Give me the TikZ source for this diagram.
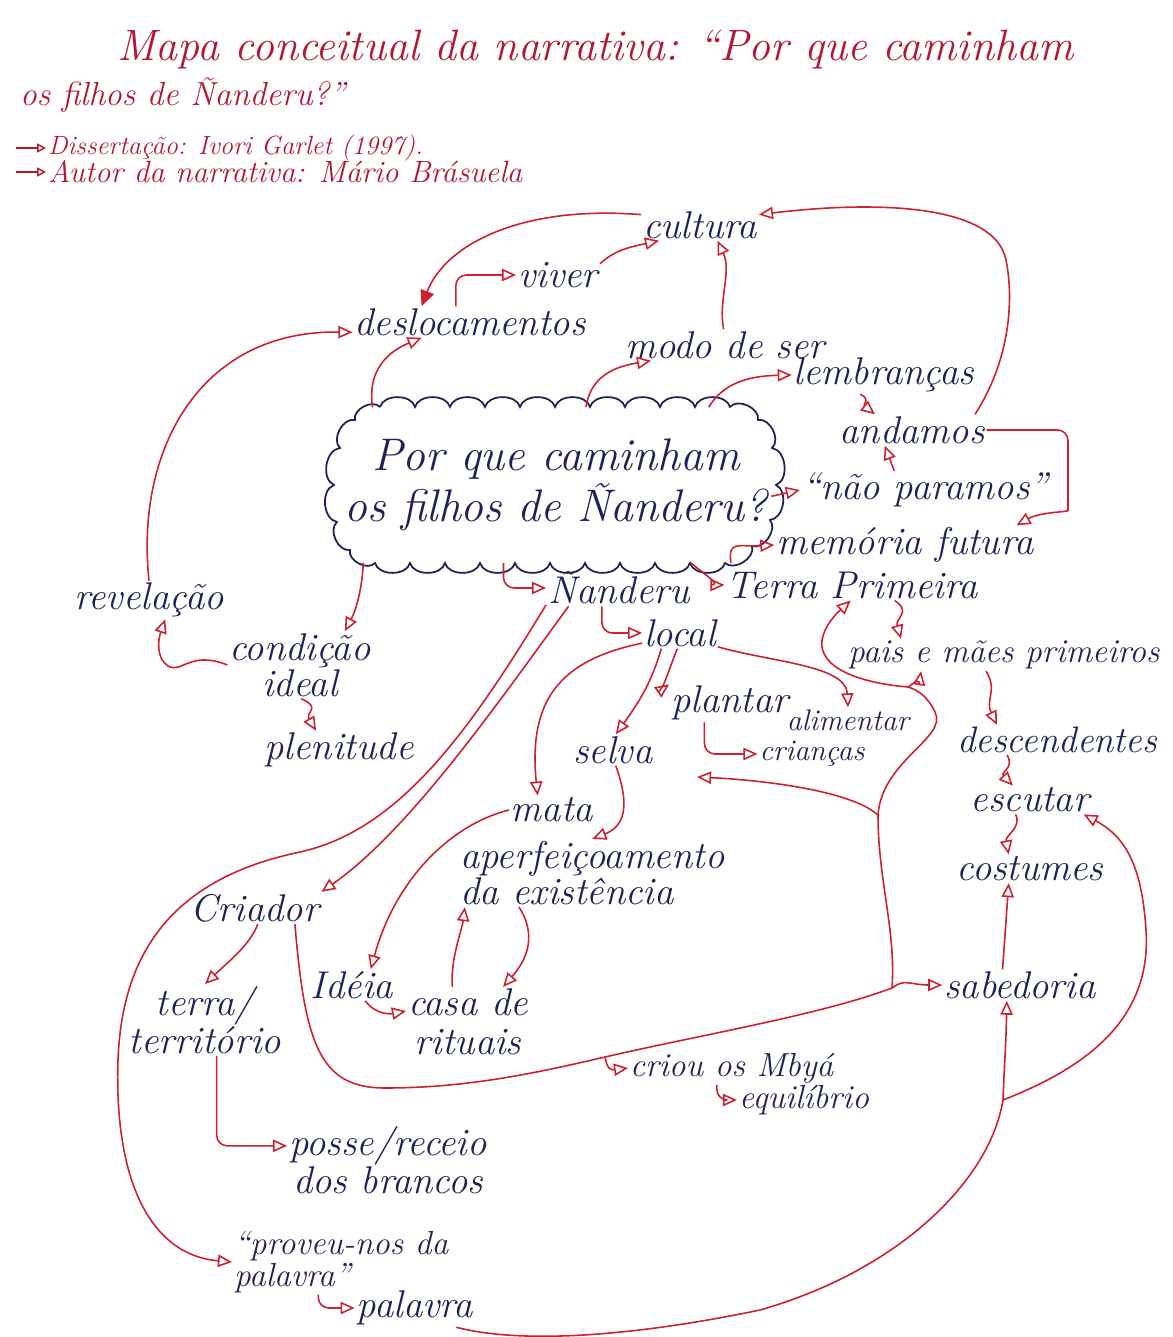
\documentclass[tikz,border=0pt]{standalone}
\usepackage{tikz}
\usetikzlibrary{arrows.meta,calc,positioning}
\definecolor{cink}{RGB}{30,34,84}
\definecolor{cred}{RGB}{205,32,48}
\definecolor{ctitle}{RGB}{180,22,52}
\tikzset{
  concept/.style={font=\fontsize{22}{19}\selectfont\itshape,text=cink,
    inner sep=1pt,align=center},
  smallconcept/.style={concept,font=\fontsize{19}{16}\selectfont\itshape},
  tinyconcept/.style={concept,font=\fontsize{17}{15}\selectfont\itshape},
  titletxt/.style={font=\fontsize{25}{25}\selectfont\itshape,text=ctitle,
    inner sep=1pt},
  subtxt/.style={titletxt,font=\fontsize{16}{16}\selectfont\itshape},
  % the question in the middle; its scalloped outline is drawn separately
  question/.style={rectangle,minimum width=8.6cm,minimum height=3.1cm,
    align=center,text=cink,inner sep=0pt,
    font=\fontsize{26}{29}\selectfont\itshape},
  puff/.style={bend left=75},
  arr/.style={draw=cred,line width=0.9pt,-{Triangle[open,length=8pt,width=7pt]}},
  arrfill/.style={arr,-{Triangle[length=9pt,width=8pt]}},
  arrsmall/.style={draw=ctitle,line width=0.8pt,-{Triangle[open,length=5pt,width=5pt]}},
  hookarr/.style={arr,rounded corners=6pt},
  wire/.style={draw=cred,line width=0.9pt}
}

\begin{document}
\begin{tikzpicture}[x=0.02cm,y=-0.02cm]
  \fill[white] (0,0) rectangle (1172,1337);
  \useasboundingbox (0,0) rectangle (1172,1337);

  % title
  \node[titletxt,anchor=west] (tit1) at (115,50) {Mapa conceitual da narrativa: “Por que caminham};
  \node[titletxt,anchor=west,font=\fontsize{19}{19}\selectfont\itshape] (tit2) at (18,95) {os filhos de Ñanderu?”};
  \node[subtxt,anchor=west,font=\fontsize{15}{15}\selectfont\itshape] (diss) at (46,148) {Dissertação: Ivori Garlet (1997).};
  \node[subtxt,anchor=west,font=\fontsize{17.5}{17.5}\selectfont\itshape] (autor) at (46,172) {Autor da narrativa: Mário Brásuela};
  \coordinate (m1) at (16,148);
  \coordinate (m2) at (16,172);
  \draw[arrsmall] (m1) -- (diss.west);
  \draw[arrsmall] (m2) -- (autor.west);

  \node[question] (q) at (556,485) {Por que caminham\\os filhos de Ñanderu?};
  \draw[cink,line width=1pt] (380,407)
    \foreach \x in {415,450,...,730} { to[puff] (\x,407) }
    to[puff] (758,420) to[puff] (772,448) to[puff] (776,485)
    to[puff] (770,520) to[puff] (752,546) to[puff] (725,563)
    \foreach \x in {690,655,...,375} { to[puff] (\x,563) }
    to[puff] (350,550) to[puff] (337,522) to[puff] (334,485)
    to[puff] (340,448) to[puff] (355,420) to[puff] (380,407);

  \node[concept] (cult) at (700,225) {cultura};
  \node[concept] (viver) at (558,275) {viver};
  \node[concept] (desloc) at (470,322) {deslocamentos};
  \node[concept] (modo) at (725,345) {modo de ser};
  \node[concept] (lembr) at (884,375) {lembranças};
  \node[concept] (andam) at (912,430) {andamos};
  \node[concept] (naopar) at (925,490) {“não paramos”};
  \node[concept] (memfut) at (905,545) {memória futura};
  \node[concept] (terra1) at (852,585) {Terra Primeira};
  \node[smallconcept,anchor=west] (pais) at (846,655) {pais e mães primeiros};
  \node[concept,anchor=west,font=\fontsize{21}{18}\selectfont\itshape] (desc) at (955,740) {descendentes};
  \node[concept] (escut) at (1030,800) {escutar};
  \node[concept,below=0.8cm of escut] (cost) {costumes};
  \node[concept] (sabed) at (1020,985) {sabedoria};

  \node[concept] (nand) at (619,588) {Ñanderu};
  \node[concept] (local) at (680,633) {local};
  \node[concept] (revel) at (149,600) {revelação};
  \node[concept] (cond) at (300,665) {condição\\ideal};
  \node[concept] (plen) at (339,750) {plenitude};
  \node[concept] (plant) at (730,703) {plantar};
  \node[tinyconcept] (alim) at (848,720) {alimentar};
  \node[tinyconcept] (crian) at (812,754) {crianças};
  \node[concept] (selva) at (613,750) {selva};
  \node[concept] (mata) at (552,810) {mata};
  \node[concept,anchor=west,align=left] (aperf) at (458,873) {aperfeiçoamento\\da existência};
  \node[concept] (criad) at (255,908) {Criador};
  \node[concept] (ideia) at (352,985) {Idéia};
  \node[concept,font=\fontsize{22}{22}\selectfont\itshape] (casa) at (468,1022) {casa de\\rituais};
  \node[concept] (terra) at (205,1020) {terra/\\território};
  \node[smallconcept,anchor=west] (criou) at (628,1068) {criou os Mbyá};
  \node[smallconcept,anchor=west] (equil) at (737,1100) {equilíbrio};
  \node[concept] (posse) at (388,1160) {posse/receio\\dos brancos};
  \node[smallconcept,anchor=west,align=left] (prov) at (232,1262) {“proveu-nos da\\palavra”};
  \node[concept] (palav) at (415,1308) {palavra};

  \coordinate (jcri) at (605,1057);
  \coordinate (jsab) at (892,988);
  \coordinate (jlow) at (878,815);
  \coordinate (jup) at (908,687);
  \coordinate (tipp) at (697,777);
  \coordinate (jpal) at (1003,1100);

  % out of the cloud
  \draw[arr] (q.157) .. controls (368,378) and (380,355) .. (desloc.198);
  \draw[arr] (q.69) .. controls (590,382) and (606,368) .. (modo.192);
  \draw[arr] (q.27) .. controls (722,385) and (745,376) .. (lembr.west);
  \draw[arr] (q.-3) -- (naopar.west);
  \draw[arr] (q.-24) .. controls (728,540) and (738,547) .. (memfut.west);
  \draw[arr] (q.-30) .. controls (705,575) and (722,585) .. (terra1.west);
  \draw[hookarr] (q.-124) |- (nand.west);
  \draw[arr] (q.-158) .. controls (362,590) and (356,610) .. (cond.37);

  % upper part
  \draw[arrfill] (cult.170) .. controls (520,205) and (445,245) .. (desloc.162);
  \draw[hookarr] (desloc.132) |- (viver.west);
  \draw[arr] (viver.15) .. controls (615,250) and (630,247) .. (cult.201);
  \draw[arr] (modo.95) .. controls (718,300) and (732,272) .. (cult.-42);
  \draw[arr] (revel.north) .. controls (135,450) and (200,330) .. (desloc.185);
  \draw[arr] (lembr.-141) .. controls (872,400) and (862,404) .. (andam.157);
  \draw[arr] (naopar.148) -- (andam.-150);
  \draw[hookarr] (andam.east) -- (1068,430) -- (1068,500) .. controls (1068,512) and (1040,512) .. (memfut.10);
  \draw[arr] (andam.14) .. controls (1010,360) and (1014,300) .. (1006,260)
    .. controls (995,205) and (880,200) .. (cult.10);

  % left side
  \draw[arr] (cond.west) .. controls (190,650) and (182,674) .. (168,666)
    .. controls (156,658) and (158,640) .. (revel.-50);
  \draw[arr] (cond.-88) .. controls (322,708) and (305,712) .. (plen.140);

  % below Nanderu
  \draw[hookarr] (nand.-133) |- (local.west);
  \draw[arr] (local.-165) .. controls (560,660) and (528,700) .. (mata.135);
  \draw[arr] (local.-140) .. controls (652,680) and (642,698) .. (selva.80);
  \draw[arr] (local.-100) .. controls (668,672) and (664,688) .. (plant.163);
  \draw[arr] (local.-20) .. controls (770,662) and (846,665) .. (alim.north);
  \draw[hookarr] (plant.-143) |- (crian.west);
  \draw[arr] (selva.-80) .. controls (628,800) and (628,825) .. (aperf.north);
  \draw[arr] (mata.west) .. controls (450,825) and (395,880) .. (ideia.40);
  \draw[arr] (ideia.-50) .. controls (376,1015) and (390,1014) .. (casa.170);
  \draw[arr] (casa.114) .. controls (450,960) and (462,930) .. (aperf.-165);
  \draw[arr] (aperf.-155) .. controls (540,940) and (522,965) .. (casa.45);

  \draw[arr] (nand.-160) .. controls (500,700) and (410,830) .. (criad.north east);
  \draw[arr] (nand.-167) .. controls (470,730) and (400,830) .. (300,852)
    .. controls (175,878) and (122,950) .. (118,1060)
    .. controls (114,1180) and (150,1255) .. (prov.west);
  \draw[arr] (criad.-80) .. controls (250,945) and (228,962) .. (terra.north);
  \draw[hookarr] (terra.-72) |- (posse.172);
  \draw[hookarr] (prov.-125) |- (palav.west);

  % Criador line along the bottom and up the right
  \draw[wire] (criad.-22) .. controls (305,1045) and (320,1088) .. (385,1088)
    .. controls (470,1088) and (540,1072) .. (jcri)
    .. controls (700,1035) and (820,1015) .. (jsab)
    .. controls (896,930) and (878,880) .. (jlow)
    .. controls (882,760) and (948,738) .. (935,712)
    .. controls (928,697) and (918,690) .. (jup);
  \draw[hookarr] (jcri) .. controls (607,1070) and (612,1070) .. (criou.west);
  \draw[hookarr] (criou.-131) |- (equil.west);
  \draw[arr] (jsab) .. controls (905,978) and (910,985) .. (sabed.west);
  \draw[arr] (jlow) .. controls (850,790) and (760,780) .. (tipp);
  \draw[arr] (jup) .. controls (915,682) and (920,678) .. ($(pais.south west)+(75,0)$);
  \draw[arr] (jup) .. controls (860,683) and (818,668) .. (822,640)
    .. controls (825,625) and (835,615) .. (terra1.-95);

  % right column
  \draw[arr] (terra1.-20) .. controls (912,612) and (895,618) .. ($(pais.north west)+(55,0)$);
  \draw[arr] ($(pais.south west)+(140,0)$) .. controls (998,690) and (985,700) .. ($(desc.north west)+(42,0)$);
  \draw[arr] ($(desc.south west)+(52,0)$) .. controls (1015,768) and (1000,772) .. (escut.140);
  \draw[arr] (escut.-135) .. controls (1022,828) and (1005,835) .. (cost.146);
  \draw[arr] (sabed.138) -- (cost.-146);

  % from palavra
  \draw[wire] (palav.-25) .. controls (525,1345) and (640,1335) .. (760,1310)
    .. controls (900,1270) and (990,1180) .. (jpal);
  \draw[arr] (jpal) .. controls (1004,1070) and (1006,1045) .. (sabed.-130);
  \draw[arr] (jpal) .. controls (1085,1068) and (1152,1020) .. (1146,930)
    .. controls (1142,870) and (1128,838) .. (escut.-15);
\end{tikzpicture}
\end{document}
